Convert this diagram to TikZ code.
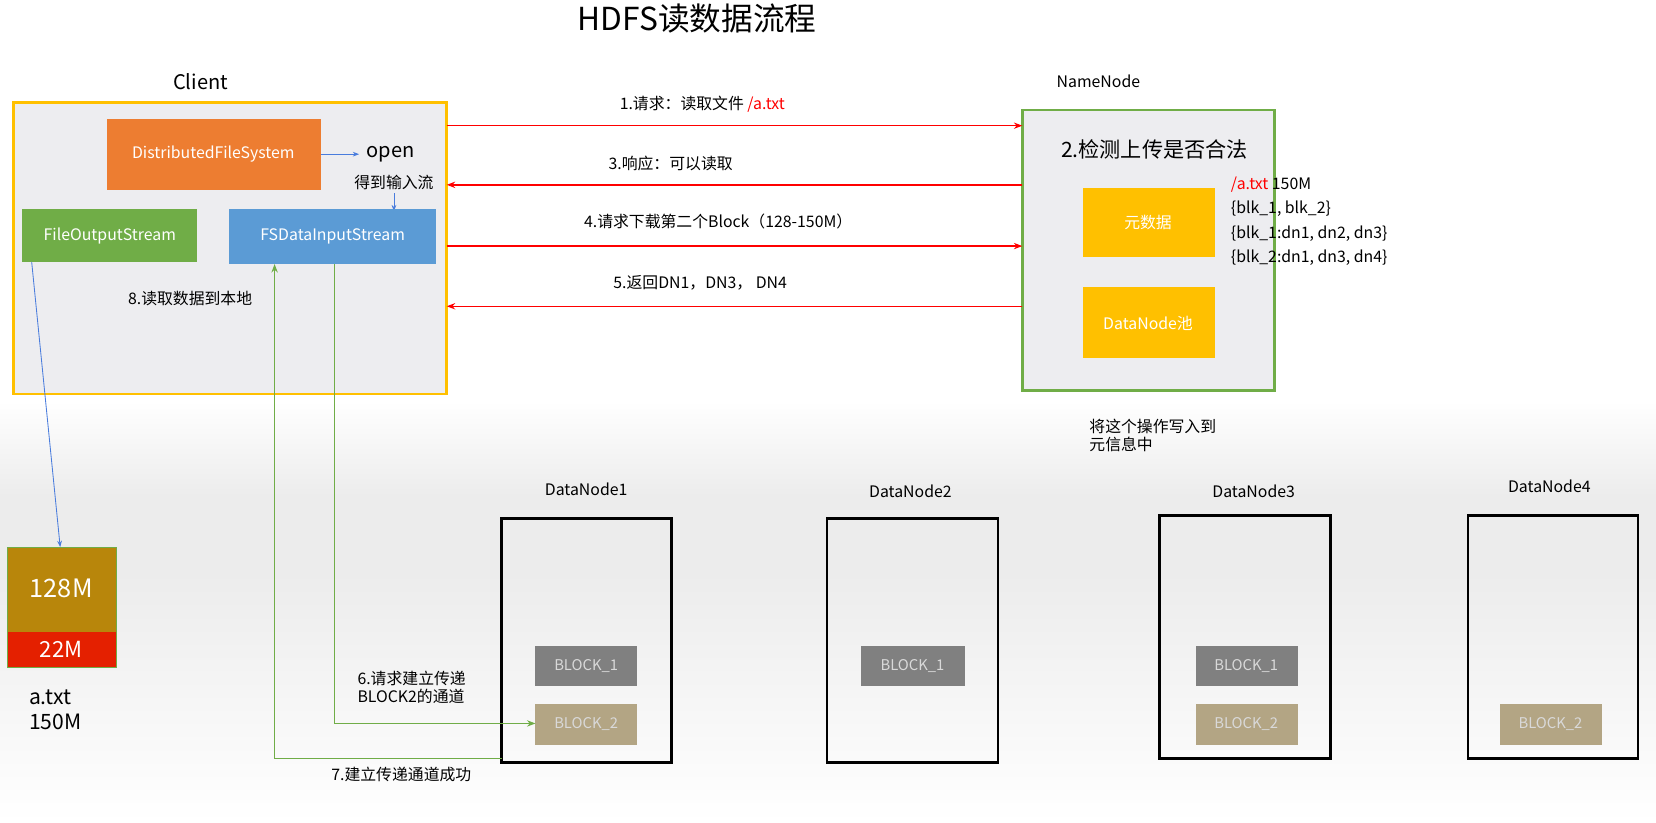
\documentclass[tikz,border=0pt]{standalone}
\usepackage{fontspec}
\setmainfont{Noto Sans CJK SC}
\usetikzlibrary{arrows.meta}
\definecolor{cOr}{HTML}{ED7D31}
\definecolor{cYe}{HTML}{FFC000}
\definecolor{cGr}{HTML}{70AD47}
\definecolor{cBl}{HTML}{5B9BD5}
\definecolor{cGold}{HTML}{B8860B}
\definecolor{cRed}{HTML}{E42000}
\definecolor{cBg}{HTML}{EDEDF0}
\definecolor{cB1}{HTML}{808080}
\definecolor{cB2}{HTML}{B3A584}
\begin{document}
\begin{tikzpicture}[x=1pt,y=-1pt,
  lbl/.style={font=\fontsize{15}{17}\selectfont},
  fbox/.style={draw=none,inner sep=0,text=white,font=\fontsize{15}{17}\selectfont},
  blk/.style={text=gray!30,font=\fontsize{14}{16}\selectfont},
  dn/.style={draw=black,line width=2.5pt},
  red/.style={draw=red,line width=1.3pt,-{Stealth[length=8pt]}},
  grn/.style={draw=cGr,line width=1.3pt,-{Stealth[length=8pt]}},
  blu/.style={draw=cBl!80!blue,line width=0.8pt,-{Stealth[length=6pt]}}]
\useasboundingbox (0,0) rectangle (1568,779);
\shade[top color=white,bottom color=gray!15] (0,380) rectangle (1568,470);
\fill[gray!15] (0,470) rectangle (1568,540);
\shade[top color=gray!15,bottom color=white] (0,540) rectangle (1568,779);
\node[font=\fontsize{30}{34}\selectfont] (title) at (660,18) {HDFS读数据流程};
% Client
\node[font=\fontsize{19}{22}\selectfont] (clientl) at (190,77) {Client};
\draw[draw=cYe,line width=2.5pt,fill=cBg] (13,97) rectangle (423,373);
\fill[cOr] (101,113) rectangle (304,180);
\node[fbox] (dfs) at (202,146) {DistributedFileSystem};
\node[font=\fontsize{19}{22}\selectfont] (open) at (370,146) {open};
\draw[blu] (304,146) -- (340,146);
\node[lbl] (ins) at (373,173) {得到输入流};
\draw[blu] (373,183) -- (373,200);
\fill[cGr] (21,198) rectangle (187,248);
\node[fbox] (fos) at (104,223) {FileOutputStream};
\fill[cBl] (217,198) rectangle (413,250);
\node[fbox] (fsd) at (315,224) {FSDataInputStream};
\node[lbl] (s8) at (180,283) {8.读取数据到本地};
% NameNode
\node[lbl] (nnl) at (1040,77) {NameNode};
\draw[draw=cGr,line width=2.5pt,fill=cBg] (968,104) rectangle (1207,370);
\node[font=\fontsize{20}{23}\selectfont] (chk) at (1093,141) {2.检测上传是否合法};
\fill[cYe] (1025,178) rectangle (1150,243);
\node[fbox] (meta) at (1087,211) {元数据};
\fill[cYe] (1025,272) rectangle (1150,339);
\node[fbox] (pool) at (1087,306) {DataNode池};
\node[lbl,anchor=west] (m1) at (1162,175) {\textcolor{red}{/a.txt} 150M};
\node[lbl,anchor=west] (m2) at (1162,198) {\{blk\_1, blk\_2\}};
\node[lbl,anchor=west] (m3) at (1162,221) {\{blk\_1:dn1, dn2, dn3\}};
\node[lbl,anchor=west] (m4) at (1162,244) {\{blk\_2:dn1, dn3, dn4\}};
\node[lbl,align=left,anchor=west] (wr) at (1028,412) {将这个操作写入到\\元信息中};
% red arrows
\draw[red] (423,119) -- (968,119);
\node[lbl] (s1) at (665,99) {1.请求：读取文件 \textcolor{red}{/a.txt}};
\draw[red] (968,175) -- (423,175);
\node[lbl] (s3) at (635,155) {3.响应：可以读取};
\draw[red] (423,233) -- (968,233);
\node[lbl] (s4) at (680,210) {4.请求下载第二个Block（128-150M）};
\draw[red] (968,290) -- (423,290);
\node[lbl] (s5) at (663,268) {5.返回DN1，DN3， DN4};
% file
\fill[cGold] (7,518) rectangle (110,598);
\fill[cRed] (7,598) rectangle (110,632);
\draw[cGr,line width=1pt] (7,518) rectangle (110,632);
\node[text=white,font=\fontsize{24}{28}\selectfont] (f128) at (58,557) {128M};
\node[text=white,font=\fontsize{21}{24}\selectfont] (f22) at (58,615) {22M};
\node[font=\fontsize{20}{23}\selectfont,align=left,anchor=west] (fname) at (24,672) {a.txt\\ 150M};
\draw[blu] (30,248) -- (57,518);
% datanodes
\node[lbl] (d1l) at (555,463) {DataNode1};
\draw[dn] (475,491) rectangle (636,722);
\node[lbl] (d2l) at (862,465) {DataNode2};
\draw[dn] (783,491) rectangle (945,722);
\node[lbl] (d3l) at (1187,465) {DataNode3};
\draw[dn] (1098,488) rectangle (1260,718);
\node[lbl] (d4l) at (1467,460) {DataNode4};
\draw[dn] (1390,488) rectangle (1551,718);
\fill[cB1] (507,612) rectangle (603,650); \node[blk] (b11) at (555,631) {BLOCK\_1};
\fill[cB2] (507,667) rectangle (603,705); \node[blk] (b12) at (555,686) {BLOCK\_2};
\fill[cB1] (815,612) rectangle (914,650); \node[blk] (b21) at (864,631) {BLOCK\_1};
\fill[cB1] (1132,612) rectangle (1229,650); \node[blk] (b31) at (1180,631) {BLOCK\_1};
\fill[cB2] (1132,667) rectangle (1229,705); \node[blk] (b32) at (1180,686) {BLOCK\_2};
\fill[cB2] (1420,667) rectangle (1517,705); \node[blk] (b42) at (1468,686) {BLOCK\_2};
% green arrows
\draw[grn] (317,250) -- (317,685) -- (507,685);
\node[lbl,align=left,anchor=west] (s6) at (335,651) {6.请求建立传递\\BLOCK2的通道};
\draw[grn] (475,718) -- (260,718) -- (260,250);
\node[lbl] (s7) at (380,733) {7.建立传递通道成功};
\end{tikzpicture}
\end{document}
